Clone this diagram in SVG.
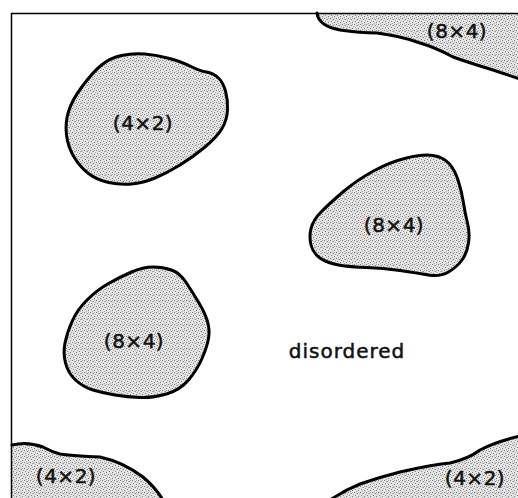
<svg xmlns="http://www.w3.org/2000/svg" width="518" height="498" viewBox="0 0 518 498">
<style>
.blob{fill:url(#stip);stroke:#000;stroke-width:3;stroke-linejoin:round;stroke-linecap:round}
.fillonly{fill:url(#stip);stroke:none}
.edge{fill:none;stroke:#000;stroke-width:3;stroke-linejoin:round;stroke-linecap:round}
.lbl{font-family:"DejaVu Sans","Liberation Sans",sans-serif;font-size:20px;fill:#111;stroke:#111;stroke-width:0.5;text-anchor:middle;letter-spacing:0.5px}
.frame{fill:none;stroke:#000;stroke-width:1.5}
</style>
<defs>
<pattern id="stip" width="6" height="6" patternUnits="userSpaceOnUse">
<rect width="6" height="6" fill="#e4e4e4"/>
<rect x="0" y="0" width="1" height="1" fill="#777"/>
<rect x="3" y="1" width="1" height="1" fill="#8a8a8a"/>
<rect x="1" y="3" width="1" height="1" fill="#808080"/>
<rect x="4" y="4" width="1" height="1" fill="#777"/>
<rect x="5" y="2" width="1" height="1" fill="#a5a5a5"/>
<rect x="2" y="5" width="1" height="1" fill="#a5a5a5"/>
<rect x="2" y="1" width="1" height="1" fill="#b5b5b5"/>
<rect x="4" y="0" width="1" height="1" fill="#b0b0b0"/>
</pattern>
</defs>
<rect width="518" height="498" fill="#fff"/>
<g id="blob-top-right">
<path class="fillonly" d="M 317,13 C 318,22 325,27 340,30 Q 360,33 377,33 Q 400,36 417,42 Q 437,48 453,57 Q 470,63 493,70 L 520,79 L 520,13 Z"/>
<path class="edge" d="M 317,13 C 318,22 325,27 340,30 Q 360,33 377,33 Q 400,36 417,42 Q 437,48 453,57 Q 470,63 493,70 L 520,79"/>
<text class="lbl" x="457" y="38">(8×4)</text>
</g>
<g id="blob-4x2-upper">
<path class="blob" d="M 68.5,111.5 Q 72,100 82.5,86 Q 93,72 101.5,65 Q 110,58 121.5,55.5 Q 133,53 145,54 Q 157,55 169.5,58.5 Q 182,62 191,66.5 Q 200,71 206.5,72 Q 213,73 218,77.5 Q 223,82 225.5,91 Q 228,100 227.5,110 Q 227,120 222,128.5 Q 217,137 205,147 Q 193,157 180,165 Q 167,173 155,178 Q 143,183 131.5,184 Q 120,185 108.5,182.5 Q 97,180 88.5,173.5 Q 80,167 74,157 Q 68,147 66.5,135 Q 65,123 68.5,111.5 Z"/>
<text class="lbl" x="143" y="130">(4×2)</text>
</g>
<g id="blob-8x4-right">
<path class="blob" d="M 321.5,211.5 Q 330,203 343.5,191.5 Q 357,180 373.5,171 Q 390,162 406.5,158 Q 423,154 433,155.5 Q 443,157 449,163.5 Q 455,170 458.5,181.5 Q 462,193 463.5,203 Q 465,213 467.5,223 Q 470,233 468.5,243 Q 467,253 462,260 Q 457,267 448.5,272 Q 440,277 428.5,275 Q 417,273 400,270.5 Q 383,268 366.5,267.5 Q 350,267 338.5,265 Q 327,263 320,258 Q 313,253 311,245 Q 309,237 311,228.5 Q 313,220 321.5,211.5 Z"/>
<text class="lbl" x="394" y="232">(8×4)</text>
</g>
<g id="blob-8x4-left">
<path class="blob" d="M 171.5,270 Q 180,273 186.5,283 Q 193,293 199,303 Q 205,313 207.5,321.5 Q 210,330 208.5,338.5 Q 207,347 202,358.5 Q 197,370 188.5,380 Q 180,390 166.5,394 Q 153,398 140,397.5 Q 127,397 115,395 Q 103,393 93,390 Q 83,387 75.5,380 Q 68,373 65.5,363 Q 63,353 65,343 Q 67,333 72,321.5 Q 77,310 87,300 Q 97,290 108.5,283.5 Q 120,277 131.5,272 Q 143,267 153,267 Q 163,267 171.5,270 Z"/>
<text class="lbl" x="134" y="348">(8×4)</text>
</g>
<g id="blob-bottom-left">
<path class="fillonly" d="M 12,445 Q 27,441 43,447 Q 52,452 60,454 Q 75,456 100,457 Q 123,462 143,477 Q 155,487 163,500 L 12,500 Z"/>
<path class="edge" d="M 12,445 Q 27,441 43,447 Q 52,452 60,454 Q 75,456 100,457 Q 123,462 143,477 Q 155,487 163,500"/>
<text class="lbl" x="66" y="483">(4×2)</text>
</g>
<g id="blob-bottom-right">
<path class="fillonly" d="M 330,500 Q 345,490 360,484 Q 380,477 400,472 Q 430,465 450,463 Q 468,459 480,450 Q 495,442 520,436 L 520,500 Z"/>
<path class="edge" d="M 330,500 Q 345,490 360,484 Q 380,477 400,472 Q 430,465 450,463 Q 468,459 480,450 Q 495,442 520,436"/>
<text class="lbl" x="475" y="485">(4×2)</text>
</g>
<g id="frame">
<path class="frame" d="M 11.5,500 L 11.5,13.5 L 520,13.5"/>
</g>
<g id="label-disordered">
<text class="lbl" x="347" y="358" style="letter-spacing:1px">disordered</text>
</g>
<g id="connectors"/>
</svg>
